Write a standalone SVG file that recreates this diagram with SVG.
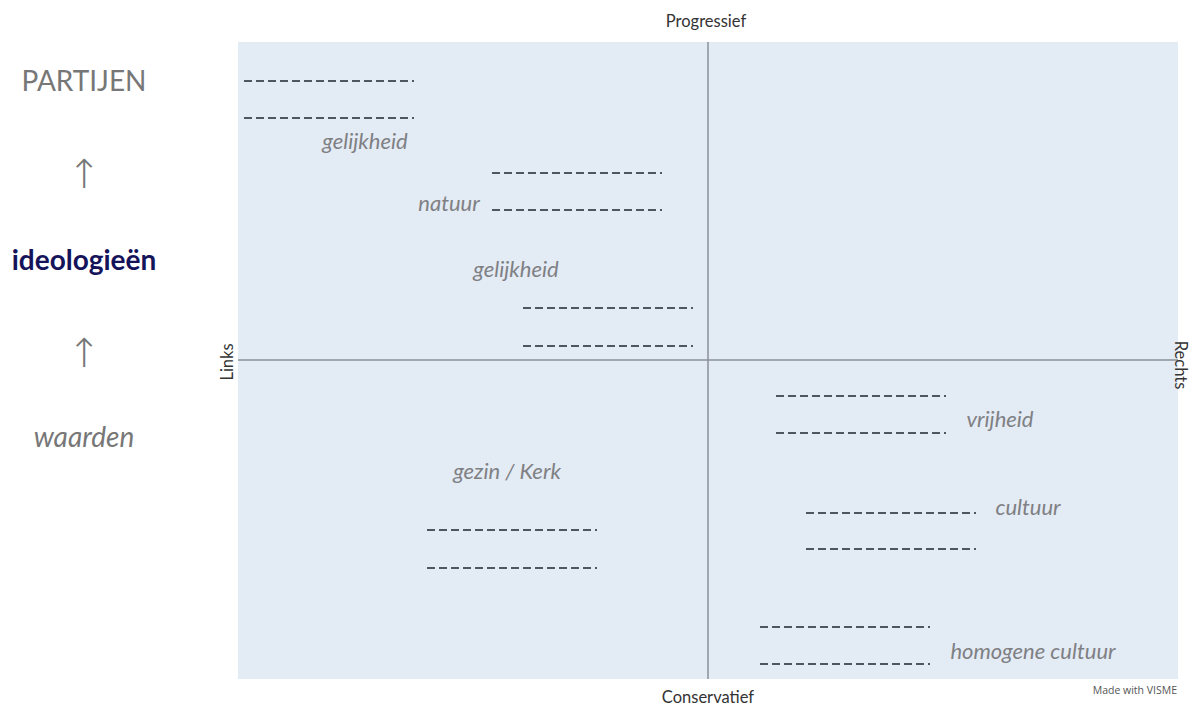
<svg xmlns="http://www.w3.org/2000/svg" width="1193" height="705" viewBox="0 0 1193 705">
<defs>
<style>
.lbl{font-family:Lato,"Open Sans","Liberation Sans",sans-serif;font-style:italic;font-size:22px;fill:#7f8083}
.axis{font-family:Lato,"Open Sans","Liberation Sans",sans-serif;font-size:16.5px;fill:#333}
.side{font-family:Lato,"Open Sans","Liberation Sans",sans-serif;font-size:28px;fill:#777}
.strong{font-weight:bold;fill:#15135a}
.arrow{font-family:"DejaVu Sans",sans-serif;font-weight:200;font-size:40px;fill:#777}
.dash{stroke:#4f565d;stroke-width:2;stroke-dasharray:8 4;fill:none}
.dot{fill:#4f565d}
.ax{stroke:#8a9096;stroke-width:1.5;fill:none}
</style>
<g id="blank">
<line class="dash" x1="0" y1="0" x2="164" y2="0"/>
<rect class="dot" x="168" y="-1" width="2" height="2"/>
</g>
</defs>
<rect width="1193" height="705" fill="#ffffff"/>
<g id="panel">
<rect x="238" y="42" width="940" height="637" fill="#e3ebf5"/>
</g>
<g id="connectors">
<line class="ax" x1="708" y1="42" x2="708" y2="679"/>
<line class="ax" x1="238" y1="360" x2="1178" y2="360"/>
</g>
<g id="axis-labels">
<text class="axis" x="706" y="27" text-anchor="middle">Progressief</text>
<text class="axis" x="708" y="703" text-anchor="middle">Conservatief</text>
<text class="axis" transform="translate(233,362) rotate(-90)" text-anchor="middle">Links</text>
<text class="axis" transform="translate(1175,365) rotate(90)" text-anchor="middle">Rechts</text>
</g>
<g id="hierarchy">
<text class="side" x="84" y="91" text-anchor="middle">PARTIJEN</text>
<text class="arrow" x="84" y="188" text-anchor="middle">↑</text>
<text class="side strong" x="84" y="270" text-anchor="middle">ideologieën</text>
<text class="arrow" x="84" y="367" text-anchor="middle">↑</text>
<text class="side" x="84" y="447" text-anchor="middle" font-style="italic">waarden</text>
</g>
<g id="q1a">
<use href="#blank" x="244" y="81"/>
<use href="#blank" x="244" y="118"/>
<text class="lbl" x="365" y="149" text-anchor="middle">gelijkheid</text>
</g>
<g id="q1b">
<use href="#blank" x="492" y="173"/>
<use href="#blank" x="492" y="210"/>
<text class="lbl" x="449" y="211" text-anchor="middle">natuur</text>
</g>
<g id="q1c">
<text class="lbl" x="516" y="277" text-anchor="middle">gelijkheid</text>
<use href="#blank" x="523" y="308"/>
<use href="#blank" x="523" y="346"/>
</g>
<g id="q4a">
<use href="#blank" x="776" y="396"/>
<use href="#blank" x="776" y="433"/>
<text class="lbl" x="1000" y="427" text-anchor="middle">vrijheid</text>
</g>
<g id="q4b">
<use href="#blank" x="806" y="513"/>
<use href="#blank" x="806" y="549"/>
<text class="lbl" x="1028" y="515" text-anchor="middle">cultuur</text>
</g>
<g id="q3">
<text class="lbl" x="507" y="479" text-anchor="middle">gezin / Kerk</text>
<use href="#blank" x="427" y="530"/>
<use href="#blank" x="427" y="568"/>
</g>
<g id="q4c">
<use href="#blank" x="760" y="627"/>
<use href="#blank" x="760" y="664"/>
<text class="lbl" x="1033" y="659" text-anchor="middle">homogene cultuur</text>
</g>
<text x="1177" y="694" text-anchor="end" font-family="'Open Sans','Liberation Sans',sans-serif" font-size="10.5" fill="#555">Made with VISME</text>
</svg>
